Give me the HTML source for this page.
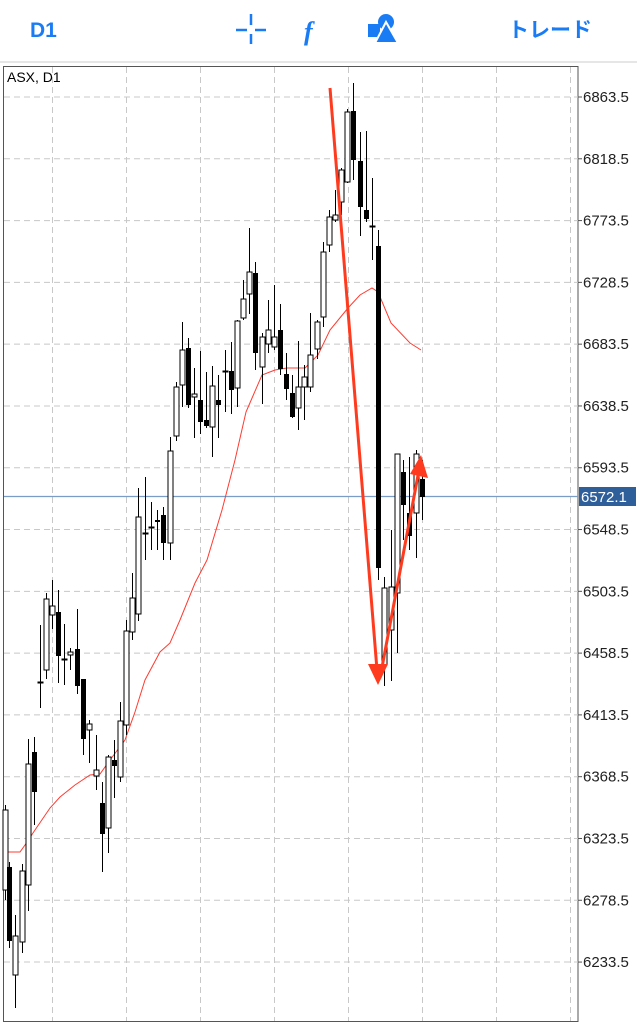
<!DOCTYPE html>
<html><head><meta charset="utf-8"><style>
html,body{margin:0;padding:0;background:#fff;width:637px;height:1024px;overflow:hidden;font-family:"Liberation Sans","Noto Sans CJK JP",sans-serif}
</style></head><body>
<svg id="s" width="637" height="1024" xmlns="http://www.w3.org/2000/svg" style="position:absolute;left:0;top:0">
<rect width="637" height="1024" fill="#fff"/>
<text x="30" y="37" font-size="21" font-weight="bold" fill="#1a7cf5" font-family="Liberation Sans, sans-serif">D1</text>
<g stroke="#1a7cf5" stroke-width="2.5"><line x1="236" y1="30" x2="247" y2="30"/><line x1="255" y1="30" x2="266" y2="30"/><line x1="251" y1="14" x2="251" y2="25"/><line x1="251" y1="34" x2="251" y2="44"/></g>
<text x="304" y="40" font-size="26" font-style="italic" font-weight="bold" fill="#1a7cf5" font-family="Liberation Serif, serif">f</text>
<rect x="368" y="24" width="12" height="13" fill="#1a7cf5"/><circle cx="386" cy="22" r="8" fill="#1a7cf5"/><polygon points="386,22 375,43 398,43" fill="#1a7cf5" stroke="#fff" stroke-width="2"/>
<text x="508" y="37" font-size="21" font-weight="bold" fill="#1a7cf5">トレード</text>
<line x1="0" y1="62" x2="637" y2="62" stroke="#ccc" stroke-width="1"/>
<rect x="3.5" y="66.5" width="574.5" height="955" fill="none" stroke="#555" stroke-width="1"/>
<text x="7" y="82" font-size="14" fill="#000">ASX, D1</text>
<g id="grid" stroke="#c8c8c8" stroke-dasharray="6,4" stroke-width="1"></g>
<g id="lbl" font-size="15" fill="#222"></g>
<line x1="4" y1="496.5" x2="578" y2="496.5" stroke="#7a9cc6" stroke-width="1.2"/>
<rect x="579" y="487" width="57" height="19" fill="#2f5f9a"/>
<text x="581" y="502" font-size="15" fill="#fff">6572.1</text>
<polyline fill="none" stroke="#ff3b30" stroke-width="1" points="3,852 20,852 25,845 35,830 50,808 60,797 75,785 90,775 100,774 110,760 125,740 135,712 145,680 160,652 170,643 180,620 195,583 207,560 222,510 235,460 246,412 262,375 275,370 287,368 305,368 318,355 330,330 348,308 360,295 372,288 378,292 391,323 410,343 421,350"/>
<g id="c"></g>
<g stroke="#ff3b1f" stroke-width="3" fill="#ff3b1f">
<line x1="330" y1="88" x2="377" y2="670"/>
<polygon points="368,664 388,664 378,685" stroke="none"/>
<line x1="380" y1="678" x2="419" y2="470"/>
<polygon points="410,474 428,478 421,455" stroke="none"/>
</g>
</svg>
<script>
var ns="http://www.w3.org/2000/svg",g=document.getElementById('grid'),l=document.getElementById('lbl'),c=document.getElementById('c');
function el(p,t,a){var e=document.createElementNS(ns,t);for(var k in a)e.setAttribute(k,a[k]);p.appendChild(e);return e;}
[52,126,200,274,348,422,496,570].forEach(function(x){el(g,'line',{x1:x+.5,y1:67,x2:x+.5,y2:1021});});
var v=6863.5;for(var i=0;i<15;i++){var y=97+i*61.79;el(g,'line',{x1:4,y1:y,x2:578,y2:y});el(l,'line',{x1:578,y1:y,x2:582,y2:y,stroke:'#555'});var t=el(l,'text',{x:583,y:y+5});t.textContent=(v-45*i).toFixed(1);}
var d=[[5,805,810,890,900,0],[9,862,867,941,948,1],[15,915,936,975,1008,0],[22,864,871,942,953,0],[28,739,764,885,911,0],[34,737,752,792,825,1],[40,625,682,683,708,0],[46,593,599,670,679,0],[52,580,606,615,629,0],[58,590,612,656,683,1],[64,624,659,660,685,0],[70,648,652,655,670,0],[77,609,649,686,694,1],[83,679,679,739,755,1],[89,720,724,730,763,0],[96,735,770,776,790,0],[102,782,803,834,872,1],[108,755,757,828,853,0],[114,740,760,766,798,1],[120,702,721,777,782,0],[126,620,631,725,735,0],[132,573,598,632,640,0],[138,488,517,614,621,0],[145,477,533,534,560,0],[151,502,527,528,550,0],[157,510,520,522,550,1],[163,507,515,543,560,1],[170,437,451,543,560,0],[176,382,387,436,441,0],[182,322,350,385,407,0],[188,338,348,405,408,1],[194,368,394,397,438,0],[200,351,400,422,434,1],[206,372,420,426,428,1],[212,366,386,427,457,0],[218,375,400,405,438,1],[225,350,371,372,412,0],[231,342,371,390,414,1],[237,320,321,388,407,0],[243,280,299,318,320,0],[249,228,272,294,314,0],[255,262,273,353,370,1],[262,333,337,367,404,0],[268,300,330,344,353,0],[274,285,337,347,350,0],[280,304,330,369,375,1],[286,353,374,389,400,1],[292,375,393,417,418,1],[298,341,387,408,430,0],[304,365,377,387,420,0],[310,313,355,387,392,0],[317,320,322,349,359,0],[323,242,252,317,327,0],[329,210,217,245,252,0],[335,190,215,220,222,0],[341,168,170,202,215,0],[347,109,112,182,183,0],[353,83,111,160,180,1],[360,132,161,207,236,1],[366,131,210,219,222,1],[372,178,226,227,260,0],[378,230,246,568,580,1],[384,577,588,665,686,0],[391,530,587,630,681,0],[397,454,454,593,653,0],[403,460,472,505,540,1],[409,457,513,536,550,1],[416,450,454,513,558,0],[422,460,479,497,520,1]];
d.forEach(function(a){var x=a[0];el(c,'line',{x1:x+.5,y1:a[1],x2:x+.5,y2:a[4],stroke:'#000','stroke-width':1});var h=Math.max(a[3]-a[2],1);el(c,'rect',{x:x-2,y:a[2],width:5,height:h,fill:a[5]?'#000':'#fff',stroke:'#000','stroke-width':a[5]?0:1});});
</script>
</body></html>
